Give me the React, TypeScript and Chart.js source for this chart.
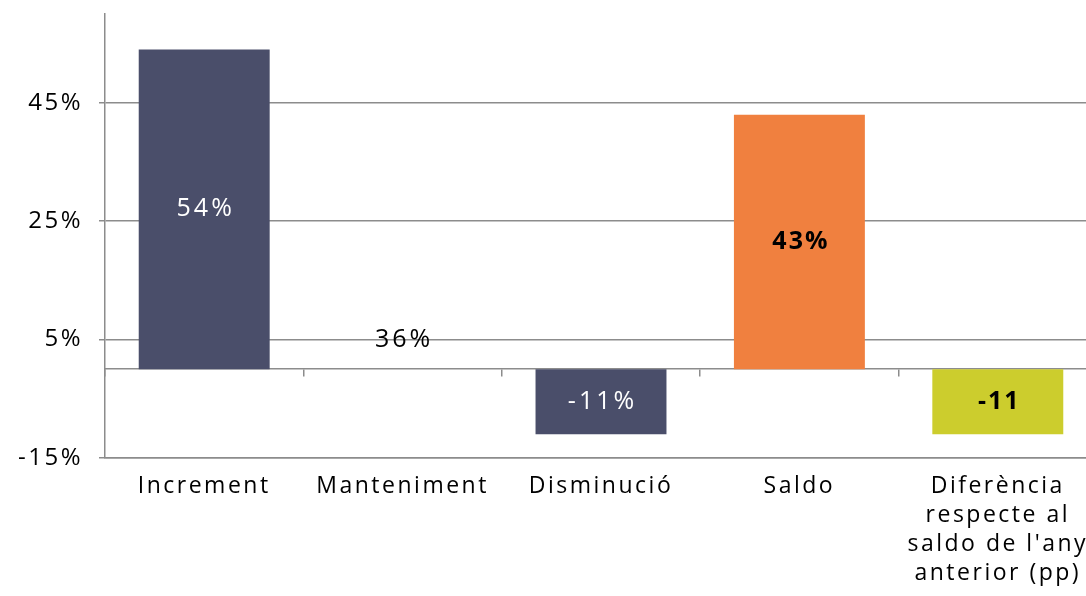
import React, { useEffect, useRef } from "react";
import { Chart, registerables } from "chart.js";

Chart.register(...registerables);

const categories: (string | string[])[] = [
  "Increment",
  "Manteniment",
  "Disminució",
  "Saldo",
  ["Diferència", "respecte al", "saldo de l'any", "anterior (pp)"],
];
const values = [54, 36, -11, 43, -11];
const valueLabels = ["54%", "36%", "-11%", "43%", "-11"];
const barColors = ["#4a4e6a", "rgba(0,0,0,0)", "#4a4e6a", "#f0803f", "#cccd2d"];
const labelColors = ["#ffffff", "#000000", "#ffffff", "#000000", "#000000"];
const labelBold = [false, false, false, true, true];
const yTickValues = [-15, 5, 25, 45];
const yMin = -15;
const yMax = 60;
const hiddenBarLabelValue = 5;

const FONT = "'Open Sans', sans-serif";
const GRID = "#8c8c8c";
const SPACING = "2.5px";

const spacingPlugin = {
  id: "spacing",
  beforeDraw(chart: any) {
    (chart.ctx as any).letterSpacing = SPACING;
  },
  afterDraw(chart: any) {
    (chart.ctx as any).letterSpacing = "0px";
  },
};

const labelPlugin = {
  id: "valueLabels",
  afterDatasetsDraw(chart: any) {
    const ctx = chart.ctx;
    const meta = chart.getDatasetMeta(0);
    const yScale = chart.scales.y;
    ctx.save();
    ctx.textAlign = "center";
    ctx.textBaseline = "middle";
    meta.data.forEach((bar: any, i: number) => {
      const transparent = barColors[i] === "rgba(0,0,0,0)";
      const y = transparent
        ? yScale.getPixelForValue(hiddenBarLabelValue)
        : (bar.y + bar.base) / 2;
      (ctx as any).letterSpacing = labelBold[i] ? "2px" : "3px";
      ctx.font = `${labelBold[i] ? "bold " : ""}25px ${FONT}`;
      ctx.fillStyle = labelColors[i];
      ctx.fillText(valueLabels[i], bar.x + 1.5, y);
    });
    ctx.restore();
  },
};

export default function App() {
  const ref = useRef<HTMLCanvasElement | null>(null);

  useEffect(() => {
    if (!ref.current) return;
    const chart = new Chart(ref.current, {
      type: "bar",
      data: {
        labels: categories as any,
        datasets: [
          {
            data: values,
            backgroundColor: barColors,
            borderWidth: 0,
            barPercentage: 0.66,
            categoryPercentage: 1,
            xAxisID: "x",
            yAxisID: "y",
          },
        ],
      },
      options: {
        responsive: false,
        animation: false,
        layout: { padding: { top: 14, right: 3, left: 0, bottom: 0 } },
        plugins: {
          legend: { display: false },
          tooltip: { enabled: false },
        },
        scales: {
          x: {
            type: "category",
            position: "bottom",
            grid: { display: false, drawTicks: false },
            border: { display: true, color: GRID, width: 1.5 },
            ticks: {
              color: "#000",
              padding: 14,
              maxRotation: 0,
              autoSkip: false,
              font: { family: FONT, size: 23, lineHeight: 29 / 23 },
            },
            afterFit: (s: any) => {
              s.height = 138;
              s.paddingLeft = 0;
              s.paddingRight = 0;
            },
          },
          x2: {
            type: "category",
            position: { y: 0 } as any,
            z: 1,
            grid: {
              display: true,
              offset: true,
              drawOnChartArea: false,
              drawTicks: true,
              tickLength: 7,
              color: GRID,
              lineWidth: 1.5,
            },
            border: { display: true, color: GRID, width: 1.5 },
            ticks: { display: false },
          },
          y: {
            type: "linear",
            min: yMin,
            max: yMax,
            afterBuildTicks: (axis: any) => {
              axis.ticks = yTickValues.map((v) => ({ value: v }));
            },
            grid: { color: GRID, lineWidth: 1.5, drawTicks: true, tickLength: 6 },
            border: { display: true, color: GRID, width: 1.5 },
            ticks: {
              color: "#000",
              padding: 16,
              font: { family: FONT, size: 24 },
              callback: (v: any) => `${v}%`,
            },
            afterFit: (s: any) => {
              s.width = 105;
              s.paddingTop = 0;
              s.paddingBottom = 0;
            },
          },
        } as any,
      },
      plugins: [spacingPlugin, labelPlugin],
    });
    return () => chart.destroy();
  }, []);

  return (
    <div style={{ position: "fixed", left: 0, top: 0, width: 1100, height: 596, background: "#fff" }}>
      <canvas ref={ref} width={1100} height={596} />
    </div>
  );
}
